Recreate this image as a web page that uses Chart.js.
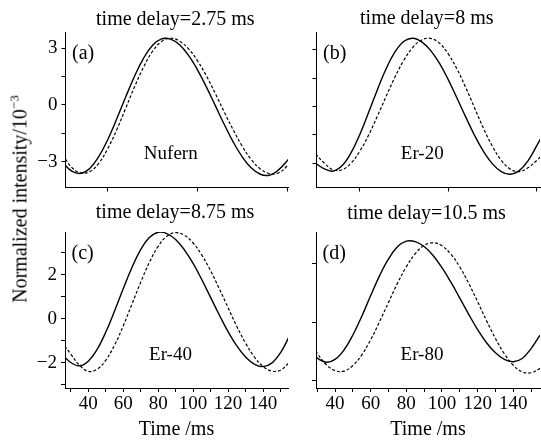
<!DOCTYPE html>
<html>
<head>
<meta charset="utf-8">
<script src="https://cdn.jsdelivr.net/npm/chart.js@4.4.1/dist/chart.umd.min.js"></script>
<style>
  body { margin: 0; background: #fff; }
  #wrap { position: relative; width: 541px; height: 443px; overflow: hidden; }
  #wrap canvas { position: absolute; left: 0; top: 0; }
  #ylab {
    position: absolute; left: 20px; top: 199px;
    transform: translate(-50%, -50%) rotate(-90deg);
    white-space: nowrap;
    font: 20px "Liberation Serif", "Times New Roman", serif;
    color: #000;
  }
  #ylab sup { font-size: 13px; vertical-align: 8px; line-height: 0; }
</style>
</head>
<body>
<div id="wrap">
  <canvas id="pa" width="541" height="443"></canvas>
  <canvas id="pb" width="541" height="443"></canvas>
  <canvas id="pc" width="541" height="443"></canvas>
  <canvas id="pd" width="541" height="443"></canvas>
  <div id="ylab">Normalized intensity/10<sup>−3</sup></div>
</div>
<script>
// sample times (ms), shared by every curve
const time = [25, 30, 35, 40, 45, 50, 55, 60, 65, 70, 75, 80, 85, 90,
              95, 100, 105, 110, 115, 120, 125, 130, 135, 140, 145, 150, 155];

// normalized intensity (x10^-3)
const solidA  = [-3.05, -3.50, -3.62, -3.36, -2.74, -1.84, -0.75, 0.42, 1.53, 2.48, 3.16, 3.50, 3.48, 3.18,
                 2.62, 1.86, 0.94, -0.05, -1.05, -1.98, -2.76, -3.34, -3.67, -3.72, -3.45, -2.95, -2.30];
const dashedA = [-2.65, -3.31, -3.60, -3.53, -3.09, -2.32, -1.32, -0.18, 0.97, 2.01, 2.84, 3.36, 3.53, 3.38,
                 2.97, 2.34, 1.53, 0.59, -0.39, -1.34, -2.20, -2.90, -3.39, -3.63, -3.60, -3.22, -2.55];
const solidB  = [-3.00, -3.30, -3.41, -3.12, -2.45, -1.47, -0.30, 0.91, 2.03, 2.91, 3.46, 3.62, 3.43, 2.98,
                 2.30, 1.43, 0.44, -0.57, -1.54, -2.38, -3.03, -3.44, -3.58, -3.40, -2.88, -2.08, -1.21];
const dashedB = [-2.50, -3.00, -3.35, -3.34, -2.99, -2.36, -1.50, -0.49, 0.57, 1.59, 2.47, 3.14, 3.53, 3.61,
                 3.36, 2.79, 1.98, 0.99, -0.09, -1.16, -2.10, -2.84, -3.30, -3.44, -3.24, -2.85, -2.40];
const solidC  = [-1.60, -1.98, -2.13, -1.92, -1.40, -0.61, 0.35, 1.37, 2.34, 3.15, 3.70, 3.94, 3.88, 3.61,
                 3.14, 2.52, 1.78, 0.98, 0.18, -0.58, -1.23, -1.73, -2.05, -2.17, -2.01, -1.54, -0.80];
const dashedC = [-1.05, -1.60, -2.10, -2.38, -2.29, -1.88, -1.20, -0.32, 0.67, 1.66, 2.57, 3.30, 3.76, 3.92,
                 3.80, 3.45, 2.90, 2.19, 1.37, 0.51, -0.34, -1.10, -1.72, -2.16, -2.37, -2.33, -1.98];
const solidD  = [-1.07, -1.52, -1.70, -1.58, -1.18, -0.54, 0.26, 1.14, 1.99, 2.70, 3.22, 3.46, 3.44, 3.23,
                 2.85, 2.33, 1.71, 1.03, 0.34, -0.31, -0.87, -1.30, -1.58, -1.68, -1.54, -1.12, -0.55];
const dashedD = [-0.66, -1.32, -1.80, -2.06, -2.08, -1.84, -1.39, -0.74, 0.03, 0.85, 1.66, 2.37, 2.93, 3.28,
                 3.39, 3.26, 2.90, 2.36, 1.66, 0.88, 0.07, -0.69, -1.34, -1.83, -2.11, -2.15, -1.97];

const titles = ['time delay=2.75 ms', 'time delay=8 ms', 'time delay=8.75 ms', 'time delay=10.5 ms'];
const tags   = ['(a)', '(b)', '(c)', '(d)'];
const fibres = ['Nufern', 'Er-20', 'Er-40', 'Er-80'];

// tick positions
const xTicksTop    = [50, 100, 150];
const xTicksBottom = [30, 40, 50, 60, 70, 80, 90, 100, 110, 120, 130, 140, 150];
const yTicksTop    = [-3, -1.5, 0, 1.5, 3];
const yTicksC      = [-3, -2, -1, 0, 1, 2, 3];
const yTicksD      = [-2.5, 0, 2.5];

const FONT = '"Liberation Serif", "Times New Roman", serif';

// draws title, panel tag and fibre name relative to the chart area
const panelText = {
  id: 'panelText',
  afterDraw(chart, args, o) {
    const { ctx, chartArea: a } = chart;
    const cx = (a.left + a.right) / 2;
    ctx.save();
    ctx.fillStyle = '#000';
    ctx.textBaseline = 'alphabetic';
    ctx.font = '20px ' + FONT;
    ctx.textAlign = 'center';
    ctx.fillText(o.title, cx - 1.5, a.top - o.titleGap);
    ctx.textAlign = 'left';
    ctx.fillText(o.tag, a.left + 6.5, a.top + 26.5);
    ctx.textAlign = 'center';
    ctx.font = '19px ' + FONT;
    ctx.fillText(o.fibre, cx - 6, a.bottom - 28.5);
    ctx.restore();
  }
};

function minus(v) {
  return v < 0 ? '\u2212' + Math.abs(v) : String(v);
}

function makePanel(id, i, solid, dashed, p) {
  const pts = arr => time.map((t, k) => ({ x: t, y: arr[k] }));
  new Chart(document.getElementById(id), {
    type: 'line',
    data: {
      datasets: [
        { data: pts(solid), borderColor: '#000', borderWidth: 1.4, pointRadius: 0, tension: 0.4, fill: false },
        { data: pts(dashed), borderColor: '#000', borderWidth: 1.2, borderDash: [3, 2], pointRadius: 0, tension: 0.4, fill: false }
      ]
    },
    options: {
      responsive: false,
      animation: false,
      events: [],
      layout: { padding: p.pad },
      plugins: {
        legend: { display: false },
        tooltip: { enabled: false },
        panelText: { title: titles[i], tag: tags[i], fibre: fibres[i], titleGap: p.titleGap }
      },
      scales: {
        x: {
          type: 'linear',
          min: p.xMin, max: p.xMax,
          afterBuildTicks: s => { s.ticks = p.xTicks.map(v => ({ value: v })); },
          afterFit: s => { s.height = p.xH; },
          ticks: {
            autoSkip: false, maxRotation: 0, padding: 1, color: '#000',
            font: { family: FONT, size: 19 },
            callback: v => (p.xLabels && v % 20 === 0) ? String(v) : ''
          },
          grid: { drawOnChartArea: false, drawTicks: true, tickLength: 4, color: '#000' },
          border: { display: true, color: '#000', width: 1 },
          title: {
            display: p.xLabels, text: 'Time /ms', color: '#000',
            font: { family: FONT, size: 20 }, padding: { top: 0, bottom: 1 }
          }
        },
        y: {
          min: p.yMin, max: p.yMax,
          afterBuildTicks: s => { s.ticks = p.yTicks.map(v => ({ value: v })); },
          afterFit: s => { s.width = p.yW; },
          ticks: {
            autoSkip: false, padding: 4, color: '#000',
            font: { family: FONT, size: 19 },
            callback: v => (p.yLabels && p.yLabels.includes(v)) ? minus(v) : ''
          },
          grid: { drawOnChartArea: false, drawTicks: true, tickLength: 4, color: '#000' },
          border: { display: true, color: '#000', width: 1 }
        }
      }
    },
    plugins: [panelText]
  });
}

// chart areas: a 65.5-288 x 32-187.5, b 316.5-540 x 32-187.5,
//              c 65-288 x 232-388,   d 316-540 x 232-388
makePanel('pa', 0, solidA, dashedA, {
  pad: { left: 25.5, right: 253, top: 32, bottom: 245.5 }, yW: 40, xH: 10, titleGap: 7,
  xMin: 26.5, xMax: 150.4, xTicks: xTicksTop, xLabels: false,
  yMin: -4.37, yMax: 3.86, yTicks: yTicksTop, yLabels: [-3, 0, 3]
});
makePanel('pb', 1, solidB, dashedB, {
  pad: { left: 306.5, right: 1, top: 32, bottom: 245.5 }, yW: 10, xH: 10, titleGap: 8,
  xMin: 25.5, xMax: 151.9, xTicks: xTicksTop, xLabels: false,
  yMin: -4.28, yMax: 3.95, yTicks: yTicksTop, yLabels: null
});
makePanel('pc', 2, solidC, dashedC, {
  pad: { left: 25, right: 253, top: 232, bottom: 0 }, yW: 40, xH: 55, titleGap: 14,
  xMin: 26.7, xMax: 154.3, xTicks: xTicksBottom, xLabels: true,
  yMin: -3.14, yMax: 3.95, yTicks: yTicksC, yLabels: [-2, 0, 2]
});
makePanel('pd', 3, solidD, dashedD, {
  pad: { left: 306, right: 1, top: 232, bottom: 0 }, yW: 10, xH: 55, titleGap: 13,
  xMin: 29.3, xMax: 155, xTicks: xTicksBottom, xLabels: true,
  yMin: -2.8, yMax: 3.85, yTicks: yTicksD, yLabels: null
});
</script>
</body>
</html>
